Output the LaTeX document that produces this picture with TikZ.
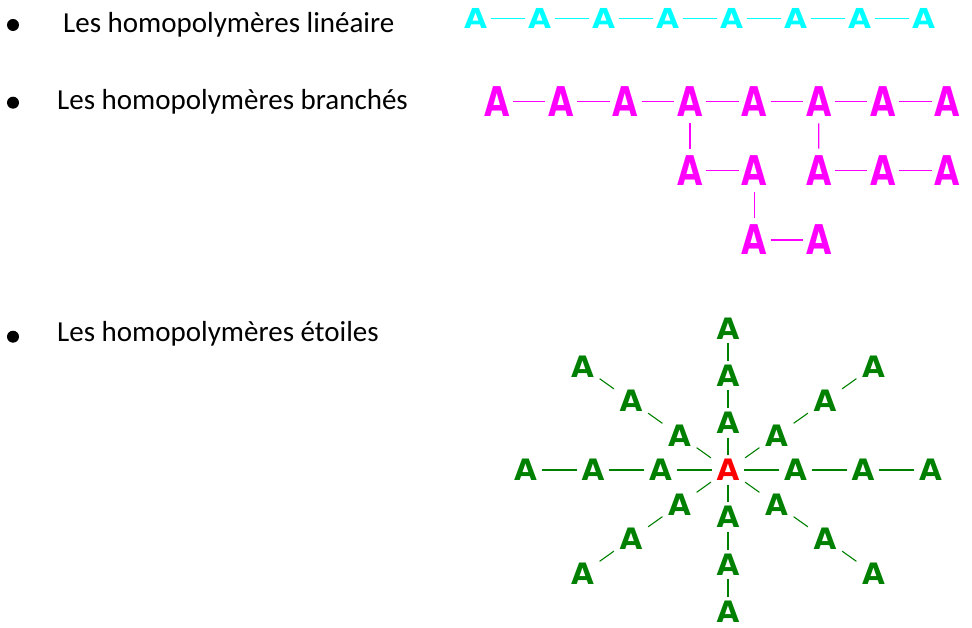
\documentclass[tikz,border=0pt]{standalone}
\usepackage{fontspec}
\setmainfont{Carlito}
\newfontfamily\afont{DejaVu Sans}[BoldFont={DejaVu Sans Bold}]
\definecolor{cyanA}{RGB}{0,255,255}
\definecolor{magA}{RGB}{255,0,255}
\definecolor{greenA}{RGB}{0,128,0}
\definecolor{redA}{RGB}{255,0,0}
\begin{document}
\begin{tikzpicture}[x=1pt,y=-1pt,
  lbl/.style={anchor=base west,inner sep=0pt,font=\fontsize{29}{34}\selectfont},
  bul/.style={circle,fill=black,inner sep=0pt,minimum size=12pt},
  atomC/.style={inner sep=0pt,outer sep=0pt,text=cyanA,xscale=1.08,font=\afont\bfseries\fontsize{27.5}{28}\selectfont},
  atomM/.style={inner sep=0pt,outer sep=0pt,text=magA,xscale=0.8,font=\afont\bfseries\fontsize{41}{42}\selectfont},
  atomG/.style={inner sep=0pt,outer sep=0pt,text=greenA,xscale=1.0,font=\afont\bfseries\fontsize{29.5}{30}\selectfont},
  atomR/.style={atomG,text=redA},
  bondC/.style={cyanA,line width=1.2pt,shorten <=4pt,shorten >=3pt},
  bondMh/.style={magA,line width=1.4pt,shorten <=3.5pt,shorten >=3pt},
  bondMv/.style={magA,line width=1.4pt,shorten <=7pt,shorten >=7pt},
  bondGh/.style={greenA,line width=1.1pt,shorten <=5pt,shorten >=5pt},
  bondGv/.style={greenA,line width=1.1pt,shorten <=4pt,shorten >=4pt},
  bondGd/.style={greenA,line width=1.1pt,shorten <=7pt,shorten >=7pt}]
\useasboundingbox (0,0) rectangle (972,628);
% labels
\node[bul] (b1) at (13,25) {};
\node[lbl] (t1) at (63,33) {Les homopolymères linéaire};
\node[bul] (b2) at (13,102.7) {};
\node[lbl] (t2) at (57,109.5) {Les homopolymères branchés};
\node[bul] (b3) at (13,336.7) {};
\node[lbl] (t3) at (57,341.7) {Les homopolymères étoiles};
% linear
\foreach \i in {0,...,7} {
  \node[atomC] (L\i) at ({475.7+64*\i},18.3) {A};
}
\foreach \i [evaluate=\i as \j using int(\i+1)] in {0,...,6} {
  \draw[bondC] (L\i) -- (L\j);
}
% branched
\foreach \i in {0,...,7} {
  \node[atomM] (B\i) at ({496.7+64.4*\i},101.5) {A};
}
\foreach \i [evaluate=\i as \j using int(\i+1)] in {0,...,6} {
  \draw[bondMh] (B\i) -- (B\j);
}
\node[atomM] (C1) at (B3 |- 0,170.5) {A};
\node[atomM] (C2) at (B4 |- 0,170.5) {A};
\node[atomM] (C3) at (B5 |- 0,170.5) {A};
\node[atomM] (C4) at (B6 |- 0,170.5) {A};
\node[atomM] (C5) at (B7 |- 0,170.5) {A};
\node[atomM] (D1) at (B4 |- 0,240) {A};
\node[atomM] (D2) at (B5 |- 0,240) {A};
\draw[bondMv] (B3) -- (C1);
\draw[bondMv] (B5) -- (C3);
\draw[bondMh] (C1) -- (C2);
\draw[bondMh] (C3) -- (C4);
\draw[bondMh] (C4) -- (C5);
\draw[bondMv] (C2) -- (D1);
\draw[bondMh] (D1) -- (D2);
% star
\node[atomR] (S) at (728,470) {A};
\foreach \k in {1,2,3} {
  \node[atomG] (E\k) at ({728+67.5*\k},470) {A};
  \node[atomG] (W\k) at ({728-67.5*\k},470) {A};
  \node[atomG] (N\k) at (728,{470-47.2*\k}) {A};
  \node[atomG] (So\k) at (728,{470+47.2*\k}) {A};
  \node[atomG] (NE\k) at ({728+48.5*\k},{470-34.5*\k}) {A};
  \node[atomG] (NW\k) at ({728-48.5*\k},{470-34.5*\k}) {A};
  \node[atomG] (SE\k) at ({728+48.5*\k},{470+34.5*\k}) {A};
  \node[atomG] (SW\k) at ({728-48.5*\k},{470+34.5*\k}) {A};
}
\foreach \d in {E,W} {
  \draw[bondGh] (S) -- (\d1);
  \draw[bondGh] (\d1) -- (\d2);
  \draw[bondGh] (\d2) -- (\d3);
}
\foreach \d in {N,So} {
  \draw[bondGv] (S) -- (\d1);
  \draw[bondGv] (\d1) -- (\d2);
  \draw[bondGv] (\d2) -- (\d3);
}
\foreach \d in {NE,NW,SE,SW} {
  \draw[bondGd] (S) -- (\d1);
  \draw[bondGd] (\d1) -- (\d2);
  \draw[bondGd] (\d2) -- (\d3);
}
\end{tikzpicture}
\end{document}
